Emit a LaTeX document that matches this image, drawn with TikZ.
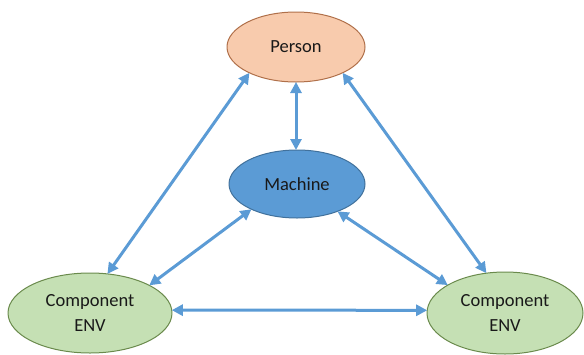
\documentclass[tikz,border=0pt]{standalone}
\usepackage{fontspec}
\setmainfont{Carlito}
\usetikzlibrary{arrows.meta,shapes.geometric}
\definecolor{personfill}{HTML}{F8CBAD}
\definecolor{persondraw}{HTML}{B0704A}
\definecolor{machfill}{HTML}{5B9BD5}
\definecolor{machdraw}{HTML}{41719C}
\definecolor{compfill}{HTML}{C5E0B4}
\definecolor{compdraw}{HTML}{6A8A4C}
\definecolor{linkblue}{HTML}{5B9BD5}
\begin{document}
\begin{tikzpicture}[x=1pt,y=-1pt, font=\fontsize{18.5}{25}\selectfont, line join=round,
		blob/.style={ellipse, inner sep=0pt, outer sep=0pt, line width=1pt, align=center, text=black!90},
		link/.style={linkblue, line width=3pt, {Triangle[length=11pt,width=11pt]}-{Triangle[length=11pt,width=11pt]}}]
		\useasboundingbox (0,0) rectangle (584,354);
		% nodes
		\node[blob, fill=personfill, draw=persondraw, minimum width=138pt, minimum height=70pt] (person) at (296,47) {Person};
		\node[blob, fill=machfill, draw=machdraw, minimum width=136pt, minimum height=68pt] (machine) at (297,184) {Machine};
		\node[blob, fill=compfill, draw=compdraw, minimum width=164pt, minimum height=80pt] (compl) at (90,313) {Component\\ENV};
		\node[blob, fill=compfill, draw=compdraw, minimum width=156pt, minimum height=82pt] (compr) at (505,313) {Component\\ENV};
		% links
		\draw[link] (person.south) -- (person.south |- machine.north);
		\draw[link] (person.209) -- (compl.66);
		\draw[link] (person.331) -- (compr.115);
		\draw[link] (machine.209) -- (compl.25);
		\draw[link] (machine.326) -- (compr.154);
		\draw[link] (compl.2) -- (compr.178);
	\end{tikzpicture}
\end{document}
